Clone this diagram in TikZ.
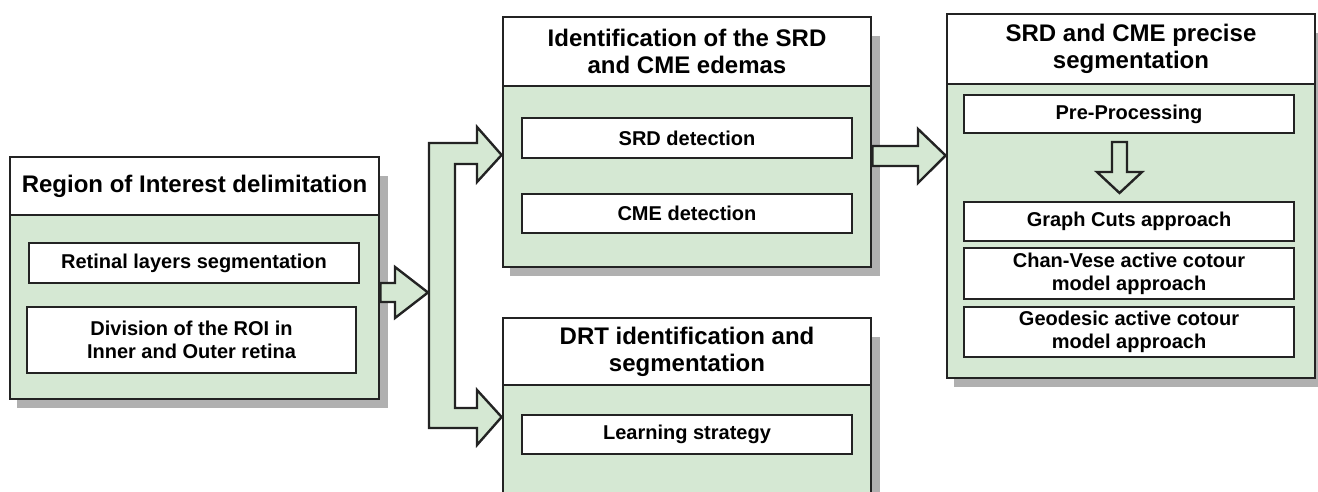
\documentclass[tikz,border=0pt]{standalone}
\usepackage{fontspec}
\setmainfont{Liberation Sans}
\usetikzlibrary{calc,backgrounds}
\definecolor{panelgreen}{RGB}{213,232,211}
\definecolor{edge}{RGB}{35,35,35}
\definecolor{shadowgray}{RGB}{176,176,176}

% block with name, style, corners (x1,y1) (x2,y2) in pixel units, and text
\newcommand\blk[7]{\node[#2, minimum width={(#5-#3)*0.75pt}, minimum height={(#6-#4)*0.75pt}] (#1) at ({(#3+#5)/2},{(#4+#6)/2}) {#7};}
% soft offset shadow behind a stage (header node, body node)
\newcommand\stageshadow[2]{\fill[shadowgray] ($(#1.north east)+(0,20)$) rectangle ($(#2.south east)+(8,8)$);
  \fill[shadowgray] ($(#2.south west)+(8,0)$) rectangle ($(#2.south east)+(8,8)$);}

\begin{document}
\begin{tikzpicture}[x=0.75pt,y=-0.75pt,
  header/.style={draw=edge, fill=white, line width=2.1pt, inner sep=0pt, align=center,
    font=\bfseries\fontsize{18}{20.25}\selectfont},
  panel/.style={draw=edge, fill=panelgreen, line width=2.1pt, inner sep=0pt},
  stepbox/.style={draw=edge, fill=white, line width=2pt, inner sep=0pt, align=center,
    font=\bfseries\fontsize{15}{17.25}\selectfont},
  fatarrow/.style={draw=edge, fill=panelgreen, line width=1.8pt, line join=miter}]
\useasboundingbox (0,0) rectangle (1318,492);
\clip (0,0) rectangle (1318,492);

% Stage 1: region of interest
\blk{roihead}{header}{10}{157}{379}{215}{Region of Interest delimitation}
\blk{roibody}{panel}{10}{215}{379}{399}{}
\blk{retinal}{stepbox}{29}{243}{359}{283}{Retinal layers segmentation}
\blk{division}{stepbox}{27}{307}{356}{373}{Division of the ROI in\\Inner and Outer retina}

% Stage 2a: edema identification
\blk{idhead}{header}{503}{17}{871}{86}{Identification of the SRD\\and CME edemas}
\blk{idbody}{panel}{503}{86}{871}{267}{}
\blk{srd}{stepbox}{522}{118}{852}{158}{SRD detection}
\blk{cme}{stepbox}{522}{194}{852}{233}{CME detection}

% Stage 2b: DRT
\blk{drthead}{header}{503}{318}{871}{385}{DRT identification and\\segmentation}
\blk{drtbody}{panel}{503}{385}{871}{505}{}
\blk{learning}{stepbox}{522}{415}{852}{454}{Learning strategy}

% Stage 3: precise segmentation
\blk{seghead}{header}{947}{14}{1315}{84}{SRD and CME precise\\segmentation}
\blk{segbody}{panel}{947}{84}{1315}{378}{}
\blk{pre}{stepbox}{964}{95}{1294}{133}{Pre-Processing}
\blk{graph}{stepbox}{964}{202}{1294}{241}{Graph Cuts approach}
\blk{chan}{stepbox}{964}{248}{1294}{299}{Chan-Vese active cotour\\model approach}
\blk{geo}{stepbox}{964}{307}{1294}{357}{Geodesic active cotour\\model approach}

\begin{scope}[on background layer]
  \stageshadow{roihead}{roibody}
  \stageshadow{idhead}{idbody}
  \stageshadow{drthead}{drtbody}
  \stageshadow{seghead}{segbody}
\end{scope}

% ROI -> splitter
\draw[fatarrow] (roibody.east |- 0,283) -- (395,283) -- (395,267) -- (428,292.5)
  -- (395,318) -- (395,302) -- (roibody.east |- 0,302) -- cycle;

% splitter bracket feeding both stage-2 blocks
\draw[fatarrow] (477,143) -- (429,143) -- (429,428) -- (477,428) -- (477,445)
  -- (idbody.west |- 0,417) -- (477,390) -- (477,408) -- (455,408) -- (455,164)
  -- (477,164) -- (477,182) -- (idbody.west |- 0,155) -- (477,127) -- cycle;

% identification -> precise segmentation
\draw[fatarrow] (idbody.east |- 0,146) -- (918,146) -- (918,129) -- (segbody.west |- 0,155.5)
  -- (918,183) -- (918,166) -- (idbody.east |- 0,166) -- cycle;

% pre-processing -> segmentation approaches
\draw[fatarrow] (1112,142) -- (1127,142) -- (1127,172) -- (1142,172) -- (1119.5,193)
  -- (1097,172) -- (1112,172) -- cycle;
\end{tikzpicture}
\end{document}
